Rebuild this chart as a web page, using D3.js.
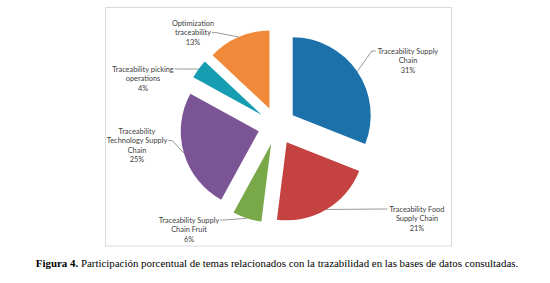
<!DOCTYPE html>
<html><head><meta charset="utf-8">
<script src="https://cdn.jsdelivr.net/npm/d3@7"></script>
<style>body{margin:0;background:#fff;} svg{display:block;}</style>
</head><body>
<svg id="c" width="550" height="283"></svg>
<script>
// ---- data ----
const categories = [
  ["Traceability Supply", "Chain"],
  ["Traceability Food", "Supply Chain"],
  ["Traceability Supply", "Chain Fruit"],
  ["Traceability", "Technology Supply", "Chain"],
  ["Traceability picking", "operations"],
  ["Optimization", "traceability"]
];
const values = [31, 21, 6, 25, 4, 13];
const percentLabels = ["31%", "21%", "6%", "25%", "4%", "13%"];
const colors = ["#1c71ab", "#c4423f", "#79a849", "#7b5495", "#169db2", "#f0893a"];
const caption = ["Figura 4.", " Participación porcentual de temas relacionados con la trazabilidad en las bases de datos consultadas."];

// ---- layout (not data) ----
const cx = 277, cy = 126, R = 78, explode = 19;
const labelLayout = [
  {dx: 131, dy: -75, side: "left", line: 0},
  {dx: 140, dy: 83, side: "left", line: 0},
  {dx: -88, dy: 94, side: "right", line: 0},
  {dx: -140, dy: 5, side: "right", line: 1},
  {dx: -134, dy: -57, side: "right", line: 0},
  {dx: -84, dy: -103, side: "right", line: 1}
];

const svg = d3.select("#c");
svg.append("rect").attr("x", 105.5).attr("y", 7.5).attr("width", 346).attr("height", 238.5)
  .attr("fill", "#fff").attr("stroke", "#d9d9d9").attr("stroke-width", 1);

const pie = d3.pie().sort(null).value(d => d);
const arcs = pie(values);
const arc = d3.arc().innerRadius(0).outerRadius(R);

const g = svg.append("g").attr("transform", `translate(${cx},${cy})`);
arcs.forEach((a, i) => {
  const mid = (a.startAngle + a.endAngle) / 2;
  const ox = explode * Math.sin(mid), oy = -explode * Math.cos(mid);
  g.append("path").attr("d", arc(a)).attr("fill", colors[i])
    .attr("transform", `translate(${ox},${oy})`);
});

const lh = 9.6;
const fontFam = "Lato, 'Open Sans', sans-serif";
arcs.forEach((a, i) => {
  const L = labelLayout[i];
  const mid = (a.startAngle + a.endAngle) / 2;
  const ax = (explode + R) * Math.sin(mid), ay = -(explode + R) * Math.cos(mid);
  const lines = categories[i].concat([percentLabels[i]]);
  const t = g.append("text").attr("font-family", fontFam).attr("font-size", 7.4)
    .attr("fill", "#404040").attr("text-anchor", "middle");
  const tspans = lines.map((s, k) => t.append("tspan").attr("x", L.dx).attr("y", L.dy + k * lh + 2.5).text(s));
  const w = tspans[L.line].node().getComputedTextLength();
  const ly = L.dy + L.line * lh;
  const ex = L.side === "left" ? L.dx - w / 2 - 2 : L.dx + w / 2 + 1;
  const hx = L.side === "left" ? ex - 4 : ex + 4;
  g.insert("path", "text").attr("d", `M${ax},${ay}L${hx},${ly}L${ex},${ly}`)
    .attr("fill", "none").attr("stroke", "#7f7f7f").attr("stroke-width", 0.8);
});

const cap = svg.append("text").attr("x", 277).attr("y", 267).attr("text-anchor", "middle")
  .attr("font-family", "Liberation Serif, DejaVu Serif, serif")
  .attr("font-size", 10.9).attr("fill", "#000");
cap.append("tspan").attr("font-weight", "bold").text(caption[0]);
cap.append("tspan").text(caption[1]);
</script>
</body></html>
